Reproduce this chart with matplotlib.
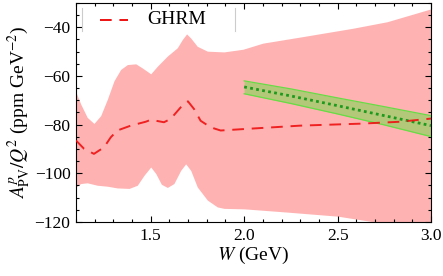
import numpy as np
import matplotlib
matplotlib.use("Agg")
import matplotlib.pyplot as plt
from matplotlib.ticker import MultipleLocator

plt.rcParams['font.family'] = ['Liberation Serif', 'DejaVu Serif']
plt.rcParams['mathtext.fontset'] = 'stix'

# GHRM band upper edge
w_up = [1.100, 1.125, 1.160, 1.196, 1.232, 1.268, 1.303, 1.339, 1.375, 1.420, 1.455, 1.500,
        1.535, 1.589, 1.642, 1.669, 1.692, 1.714, 1.749, 1.803, 1.892, 1.994, 2.10, 2.315,
        2.58, 2.765, 3.0]
v_up = [-66.7, -71.5, -77.0, -79.5, -76.3, -69.5, -62.0, -57.3, -55.3, -55.0, -56.7, -59.1,
        -56.0, -51.8, -48.4, -45.0, -42.7, -44.4, -47.8, -49.8, -50.1, -49.0, -46.5, -43.8,
        -40.4, -37.7, -32.4]

# GHRM band lower edge
w_lo = [1.100, 1.125, 1.160, 1.214, 1.268, 1.321, 1.384, 1.428, 1.464, 1.500, 1.527, 1.557,
        1.589, 1.624, 1.660, 1.687, 1.714, 1.749, 1.803, 1.856, 1.892, 2.0, 2.225, 2.5, 2.70, 3.0]
v_lo = [-105.6, -104.2, -103.9, -104.9, -105.3, -106.0, -106.2, -104.9, -100.8, -97.4, -100.1,
        -104.5, -105.8, -104.2, -98.8, -96.1, -98.8, -105.6, -111.0, -113.8, -114.4, -114.6,
        -115.9, -117.6, -120.0, -123.0]

# GHRM central value
w_c = [1.100, 1.143, 1.196, 1.250, 1.286, 1.321, 1.393, 1.473, 1.500, 1.571, 1.607, 1.660,
       1.699, 1.732, 1.767, 1.821, 1.874, 2.0, 2.30, 2.62, 2.834, 3.0]
v_c = [-86.5, -89.9, -92.0, -89.3, -85.2, -82.4, -80.4, -78.8, -78.0, -79.0, -77.6, -72.9,
       -70.4, -73.6, -78.4, -81.1, -82.4, -81.8, -80.4, -79.6, -78.8, -77.5]

# Second (green) band
w_g = [2.0, 2.25, 2.5, 2.75, 3.0]
v_g = [-64.5, -68.2, -72.2, -76.3, -80.4]
v_g_up = [-62.0, -65.3, -69.0, -72.6, -76.3]
v_g_lo = [-67.3, -71.3, -75.6, -80.1, -84.9]

fig = plt.figure(figsize=(4.43, 2.76), dpi=100)
ax = fig.add_axes([76/443, 1-222/276, (431-76)/443, (222-3)/276])

w_all = np.union1d(w_up, w_lo)
ax.fill_between(w_all, np.interp(w_all, w_up, v_up), np.interp(w_all, w_lo, v_lo),
                color='#ffb2b2', lw=0, zorder=1)

ax.fill_between(w_g, v_g_up, v_g_lo, color='#b3c878', lw=0, zorder=2)
ax.plot(w_g, v_g_up, color='#66dd44', lw=0.9, zorder=3)
ax.plot(w_g, v_g_lo, color='#66dd44', lw=0.9, zorder=3)
ax.plot(w_g, v_g, color='#1e9a1e', lw=2.0, ls=(0, (1, 1.2)), zorder=4)

ax.plot(w_c, v_c, color='#ee1111', lw=1.4, ls=(0, (6, 4)), zorder=5, alpha=0.9)

ax.set_xlim(1.1, 3.0)
ax.set_ylim(-120, -30)
ax.xaxis.set_major_locator(MultipleLocator(0.5))
ax.xaxis.set_minor_locator(MultipleLocator(0.1))
ax.yaxis.set_minor_locator(MultipleLocator(5))
ax.xaxis.set_major_formatter(matplotlib.ticker.FormatStrFormatter('%.1f'))
ax.tick_params(which='both', direction='in', top=True, right=True, labelsize=12.5, width=0.8, pad=4)
ax.tick_params(which='major', length=4.5)
ax.tick_params(which='minor', length=2.5)
for s in ax.spines.values():
    s.set_linewidth(0.8)
ax.set_yticks([-120, -100, -80, -60, -40])
ax.set_yticklabels(['\u2212120', '\u2212100', '\u221280', '\u221260', '\u221240'])

ax.set_xlabel('$W$ (GeV)', fontsize=14, labelpad=1)
ax.set_ylabel(r'$A^{p}_{\rm PV}/Q^{2}$ (ppm GeV$^{-2}$)', fontsize=14, labelpad=1)

# legend
ax.plot([(100-76)/355, (128-76)/355], [1-(20-3)/219]*2, transform=ax.transAxes,
        color='#ee1111', lw=1.4, ls=(0, (6, 4)), zorder=6)
ax.text((147-76)/355, 1-(20-3)/219, 'GHRM', transform=ax.transAxes, fontsize=14,
        va='center', ha='left', zorder=6)
for xp in (81.5, 234.5):
    ax.plot([(xp-76)/355]*2, [1-(8-3)/219, 1-(31-3)/219], transform=ax.transAxes,
            color='#cccccc', lw=0.8, zorder=6)

fig.savefig('out.png', dpi=100)
